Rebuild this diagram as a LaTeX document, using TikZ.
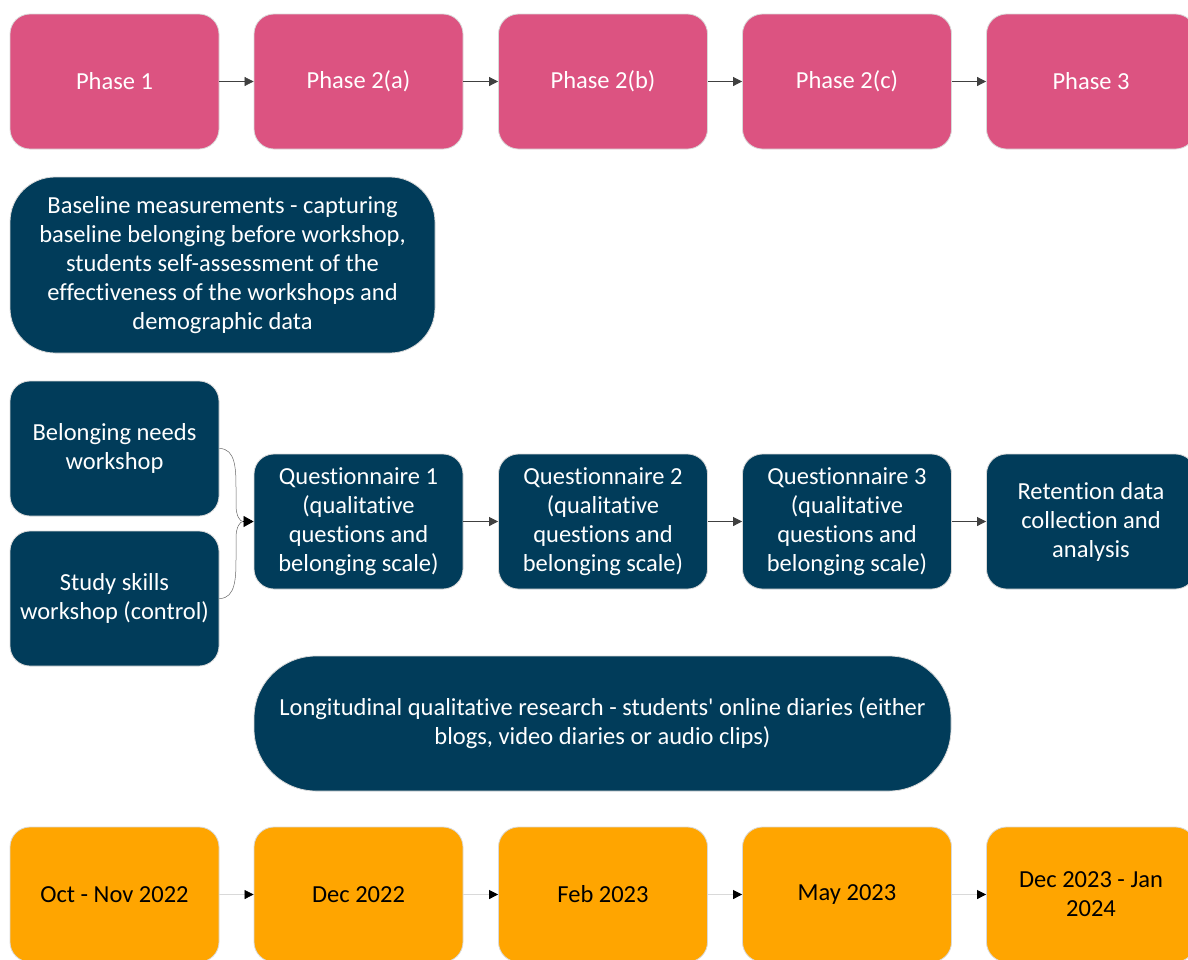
\documentclass[tikz,border=0pt]{standalone}
\usepackage{fontspec}
\setmainfont{Carlito}[Ligatures={TeXOff,NoCommon}]
\usetikzlibrary{arrows.meta}
\definecolor{phasepink}{HTML}{DC5381}
\definecolor{navy}{HTML}{013C5A}
\definecolor{amber}{HTML}{FFA500}
\definecolor{edge}{HTML}{D9D9D9}
\begin{document}
\begin{tikzpicture}[x=1pt,y=-1pt,
  box/.style={draw=edge, line width=0.8pt, rounded corners=20pt,
    minimum width=209pt, minimum height=135pt, align=center,
    inner sep=2pt, font=\fontsize{24.5}{29}\selectfont},
  phase/.style={box, fill=phasepink, text=white},
  dark/.style={box, fill=navy, text=white},
  date/.style={box, fill=amber, text=black},
  link/.style={draw=black!75, line width=0.7pt, -{Triangle[length=9pt,width=9pt]}},
  faint/.style={draw=black!15, line width=0.7pt, -{Triangle[length=9pt,width=9pt,color=black]}},
  brace/.style={draw=black!60, line width=0.5pt}]
\useasboundingbox (0,0) rectangle (1188,959);
\clip (0,0) rectangle (1188,959);

% phases
\node[phase] (p1)  at (114.5,81.5) {Phase 1};
\node[phase] (p2a) at (358.5,81.5) {Phase 2(a)};
\node[phase] (p2b) at (603,81.5)   {Phase 2(b)};
\node[phase] (p2c) at (847,81.5)   {Phase 2(c)};
\node[phase] (p3)  at (1091,81.5)  {Phase 3};
\draw[link] (p1) -- (p2a);
\draw[link] (p2a) -- (p2b);
\draw[link] (p2b) -- (p2c);
\draw[link] (p2c) -- (p3);

% baseline measurements
\node[dark, minimum width=425pt, minimum height=176pt, rounded corners=45pt] (base) at (222.5,265)
  {Baseline measurements - capturing\\baseline belonging before workshop,\\students self-assessment of the\\effectiveness of the workshops and\\demographic data};

% workshops and questionnaires
\node[dark] (bel) at (114.5,448.5) {Belonging needs\\workshop};
\node[dark] (ssk) at (114.5,598.5) {Study skills\\workshop (control)};
\node[dark] (q1) at (358.5,521.5) {Questionnaire 1\\(qualitative\\questions and\\belonging scale)};
\node[dark] (q2) at (603,521.5)   {Questionnaire 2\\(qualitative\\questions and\\belonging scale)};
\node[dark] (q3) at (847,521.5)   {Questionnaire 3\\(qualitative\\questions and\\belonging scale)};
\node[dark] (ret) at (1091,521.5) {Retention data\\collection and\\analysis};
\coordinate (join) at (243,521.5);
\draw[brace] (bel.east) .. controls (236,448.5) and (236,470) .. (236,490)
  -- (236,505) .. controls (236,516) and (240,521.5) .. (join);
\draw[brace] (ssk.east) .. controls (236,598.5) and (236,577) .. (236,557)
  -- (236,538) .. controls (236,527) and (240,521.5) .. (join);
\draw[draw=black, line width=0.6pt, -{Triangle[length=10pt,width=11pt]}] (join) -- (q1.west);
\draw[link] (q1) -- (q2);
\draw[link] (q2) -- (q3);
\draw[link] (q3) -- (ret);

% diaries
\node[dark, minimum width=697pt, rounded corners=62pt] (diary) at (602.5,723.5)
  {Longitudinal qualitative research - students' online diaries (either\\blogs, video diaries or audio clips)};

% dates
\node[date] (d1) at (114.5,894.5) {Oct - Nov 2022};
\node[date] (d2) at (358.5,894.5) {Dec 2022};
\node[date] (d3) at (603,894.5)   {Feb 2023};
\node[date] (d4) at (847,894.5)   {May 2023};
\node[date] (d5) at (1091,894.5)  {Dec 2023 - Jan\\2024};
\draw[faint] (d1) -- (d2);
\draw[faint] (d2) -- (d3);
\draw[faint] (d3) -- (d4);
\draw[faint] (d4) -- (d5);
\end{tikzpicture}
\end{document}
